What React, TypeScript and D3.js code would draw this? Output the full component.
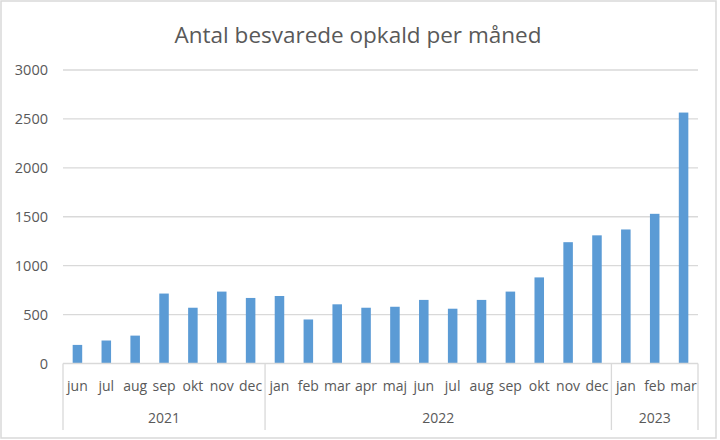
import React from "react";
import * as d3 from "d3";

const months = ["jun","jul","aug","sep","okt","nov","dec","jan","feb","mar","apr","maj","jun","jul","aug","sep","okt","nov","dec","jan","feb","mar"];
const years = ["2021","2021","2021","2021","2021","2021","2021","2022","2022","2022","2022","2022","2022","2022","2022","2022","2022","2022","2022","2023","2023","2023"];
const calls = [190,235,285,715,570,735,670,690,450,605,570,580,650,560,650,735,880,1240,1310,1370,1530,2565];
const yTicks = [0,500,1000,1500,2000,2500,3000];
const yearGroups = ["2021","2022","2023"];

const W = 720, H = 440;
const left = 63, right = 698, top = 70, bottom = 363.5;

export default function App() {
  const keys = calls.map((_, i) => String(i));
  const x = d3.scaleBand<string>().domain(keys).range([left, right]).paddingInner(0.67).paddingOuter(0.335);
  const y = d3.scaleLinear().domain([0, 3000]).range([bottom, top]);
  const step = x.step();
  const font = "'Liberation Sans Narrow', 'Open Sans', sans-serif";
  const grey = "#595959";

  const groups = yearGroups.map(g => {
    const idx = years.map((yr, i) => (yr === g ? i : -1)).filter(i => i >= 0);
    const x0 = left + idx[0] * step;
    const x1 = left + (idx[idx.length - 1] + 1) * step;
    return { g, x0, x1 };
  });
  const seps = [left, ...groups.map(g => g.x1)];

  return (
    <svg width={W} height={H} style={{ position: "absolute", left: 0, top: 0, background: "#fff" }}>
      <rect x={1} y={1} width={W - 5} height={H - 3} fill="#fff" stroke="#d9d9d9" strokeWidth={1.5} />
      <text x={358} y={43} textAnchor="middle" fontFamily="'Open Sans', sans-serif" fontSize={22.5} fill={grey}>
        Antal besvarede opkald per måned
      </text>
      {yTicks.map(t => (
        <g key={t}>
          {t > 0 && <line x1={left} x2={right} y1={y(t)} y2={y(t)} stroke="#d9d9d9" strokeWidth={1.3} />}
          <text x={48} y={y(t) + 5} textAnchor="end" fontFamily="'Open Sans', sans-serif" fontSize={14.5} fill={grey}>{t}</text>
        </g>
      ))}
      {calls.map((v, i) => (
        <rect key={i} x={x(String(i))!} y={y(v)} width={x.bandwidth()} height={y(0) - y(v)} fill="#5b9bd5" />
      ))}
      <line x1={left} x2={right} y1={bottom} y2={bottom} stroke="#d9d9d9" strokeWidth={1.3} />
      {seps.map((s, i) => (
        <line key={i} x1={s} x2={s} y1={bottom} y2={430} stroke="#d9d9d9" strokeWidth={1.3} />
      ))}
      {months.map((m, i) => (
        <text key={i} x={x(String(i))! + x.bandwidth() / 2} y={391} textAnchor="middle" fontFamily={font} fontSize={14} fill={grey}>{m}</text>
      ))}
      {groups.map(g => (
        <text key={g.g} x={(g.x0 + g.x1) / 2} y={423} textAnchor="middle" fontFamily={font} fontSize={14} fill={grey}>{g.g}</text>
      ))}
    </svg>
  );
}
